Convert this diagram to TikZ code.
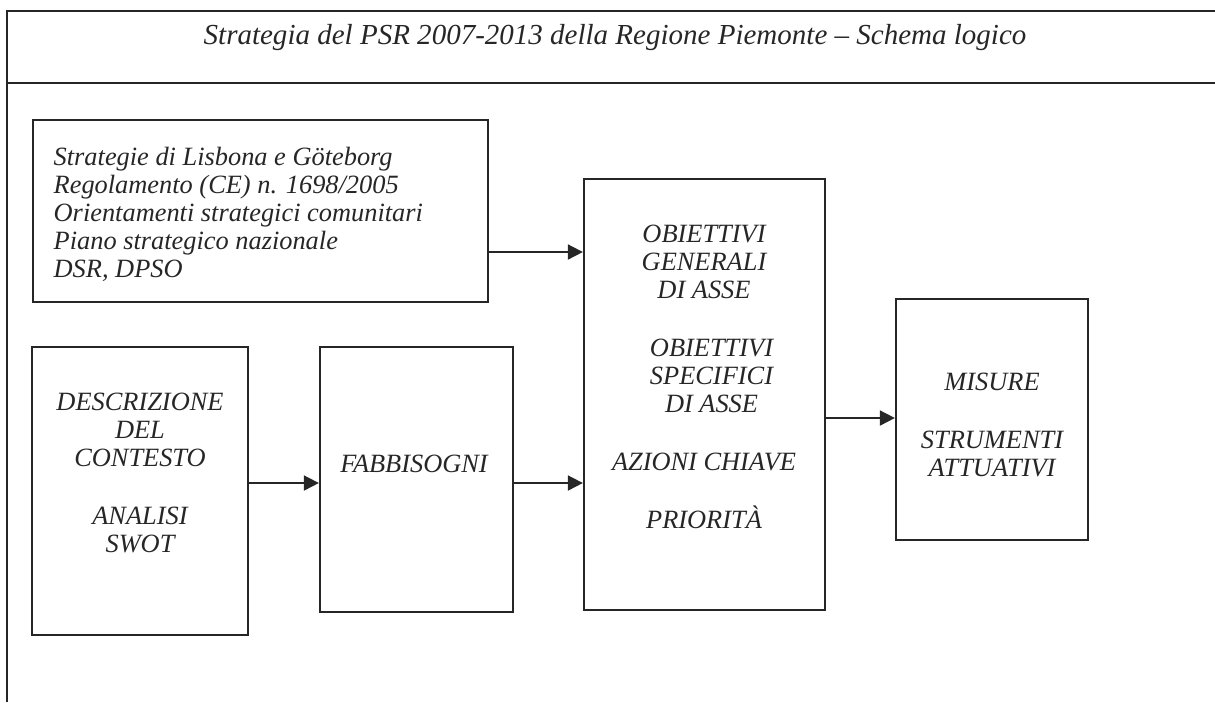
\documentclass[tikz,border=0pt]{standalone}
\usepackage{fontspec}
\setmainfont{Liberation Serif}
\usetikzlibrary{arrows.meta}

\begin{document}
\begin{tikzpicture}[x=0.01cm, y=-0.01cm,
    box/.style={draw=black!85, line width=0.6pt, inner sep=0pt},
    txt/.style={inner sep=0pt, align=center, text=black!85,
      font=\fontsize{7.5}{7.97}\selectfont\itshape},
    arr/.style={draw=black!85, line width=0.5pt,
      -{Triangle[length=0.15cm, width=0.15cm]}},
    frame/.style={draw=black!85, line width=0.8pt}]
    \useasboundingbox (0,0) rectangle (1215,702);
    % frame with the title
    \draw[frame] (1215,11) -- (7,11) -- (7,702);
    \draw[frame] (7,83) -- (1215,83);
    \node[txt, anchor=base, font=\fontsize{8.25}{8}\selectfont\itshape] (title) at (615,44)
      {Strategia del PSR 2007-2013 della Regione Piemonte -- Schema logico};
    % boxes
    \node[box, minimum width=4.55cm, minimum height=1.82cm] (ref) at (260.5,211) {};
    \node[box, minimum width=2.16cm, minimum height=2.88cm] (ctx) at (140,491) {};
    \node[box, minimum width=1.93cm, minimum height=2.65cm] (fab) at (416.5,479.5) {};
    \node[box, minimum width=2.41cm, minimum height=4.31cm] (obj) at (704.5,394.5) {};
    \node[box, minimum width=1.92cm, minimum height=2.41cm] (mis) at (992,419.5) {};
    % texts
    \node[txt, align=left, anchor=north west] (ref-t) at (53,146)
      {Strategie di Lisbona e Göteborg\\ Regolamento (CE) n. 1698/2005\\
       Orientamenti strategici comunitari\\ Piano strategico nazionale\\ DSR, DPSO};
    \node[txt, anchor=north] (ctx-t) at (140,392)
      {DESCRIZIONE\\ DEL\\ CONTESTO\\[0.3cm] ANALISI\\ SWOT};
    \node[txt, anchor=base] (fab-t) at (414,472) {FABBISOGNI};
    \node[txt, anchor=north] (obj-t) at (704,224)
      {OBIETTIVI\\ GENERALI\\ DI ASSE\\[0.3cm] \hspace*{0.15cm}OBIETTIVI\\
       \hspace*{0.15cm}SPECIFICI\\ \hspace*{0.15cm}DI ASSE\\[0.3cm] AZIONI CHIAVE\\[0.3cm] PRIORITÀ};
    \node[txt, anchor=north] (mis-t) at (992,372)
      {MISURE\\[0.3cm] STRUMENTI\\ ATTUATIVI};
    % arrows
    \coordinate (rowA) at (0,252);
    \coordinate (rowB) at (0,483);
    \coordinate (rowC) at (0,418);
    \draw[arr] (ref.east |- rowA) -- (obj.west |- rowA);
    \draw[arr] (ctx.east |- rowB) -- (fab.west |- rowB);
    \draw[arr] (fab.east |- rowB) -- (obj.west |- rowB);
    \draw[arr] (obj.east |- rowC) -- (mis.west |- rowC);
\end{tikzpicture}
\end{document}
